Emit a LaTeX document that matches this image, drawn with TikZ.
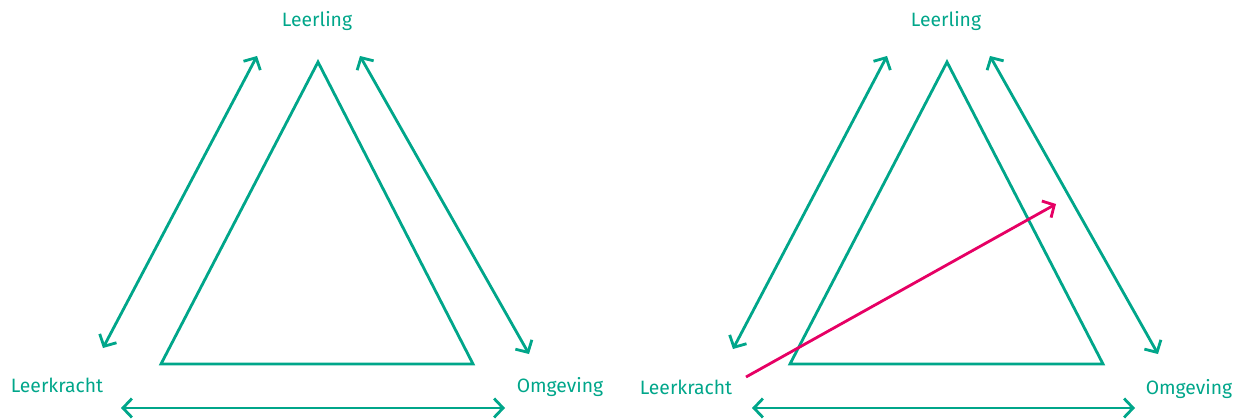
\documentclass[tikz,border=0pt]{standalone}
\usepackage{fontspec}
\setmainfont{Fira Sans}
\usetikzlibrary{arrows.meta}
\definecolor{teal}{RGB}{0,166,138}
\definecolor{pink}{RGB}{230,0,100}
\tikzset{
  link/.style={line width=1.6pt, color=teal, {Straight Barb[length=1.8mm,width=3.8mm]}-{Straight Barb[length=1.8mm,width=3.8mm]}},
  side/.style={line width=1.6pt, color=teal, line join=miter},
  pinkarrow/.style={line width=1.6pt, color=pink, -{Straight Barb[length=1.8mm,width=3.8mm]}},
  label/.style={color=teal, font=\fontsize{11}{13}\selectfont, inner sep=0pt}
}
\begin{document}
\begin{tikzpicture}[x=0.02cm, y=-0.02cm]
			%%%%% START %%%%%
			\useasboundingbox (0, 0) rectangle (1235, 419);
			
			% left triangle
			\coordinate (topA) at (318, 62);
			\coordinate (leftA) at (161, 364);
			\coordinate (rightA) at (473, 364);
			\draw[side] (topA) -- (leftA) -- (rightA) -- cycle;
			
			\node[label] (leerlingA) at (317, 21) {Leerling};
			\node[label] (leerkrachtA) at (57, 385) {Leerkracht};
			\node[label] (omgevingA) at (560, 387) {Omgeving};
			
			\coordinate (a1) at (257, 56);
			\coordinate (a2) at (103, 348);
			\coordinate (a3) at (360, 56);
			\coordinate (a4) at (529, 354);
			\coordinate (a5) at (121, 408);
			\coordinate (a6) at (505, 408);
			\draw[link] (a1) -- (a2);
			\draw[link] (a3) -- (a4);
			\draw[link] (a5) -- (a6);
			
			% right triangle
			\coordinate (topB) at (947, 62);
			\coordinate (leftB) at (790, 364);
			\coordinate (rightB) at (1103, 364);
			\draw[side] (topB) -- (leftB) -- (rightB) -- cycle;
			
			\node[label] (leerlingB) at (946, 21) {Leerling};
			\node[label] (leerkrachtB) at (686, 387) {Leerkracht};
			\node[label] (omgevingB) at (1189, 389) {Omgeving};
			
			\coordinate (b1) at (887, 56);
			\coordinate (b2) at (733, 349);
			\coordinate (b3) at (990, 56);
			\coordinate (b4) at (1158, 354);
			\coordinate (b5) at (752, 408);
			\coordinate (b6) at (1135, 408);
			\draw[link] (b1) -- (b2);
			\draw[link] (b3) -- (b4);
			\draw[link] (b5) -- (b6);
			
			\coordinate (p1) at (746, 377);
			\coordinate (p2) at (1056, 204);
			\draw[pinkarrow] (p1) -- (p2);
			
			%%%%% END %%%%%
\end{tikzpicture}
\end{document}
